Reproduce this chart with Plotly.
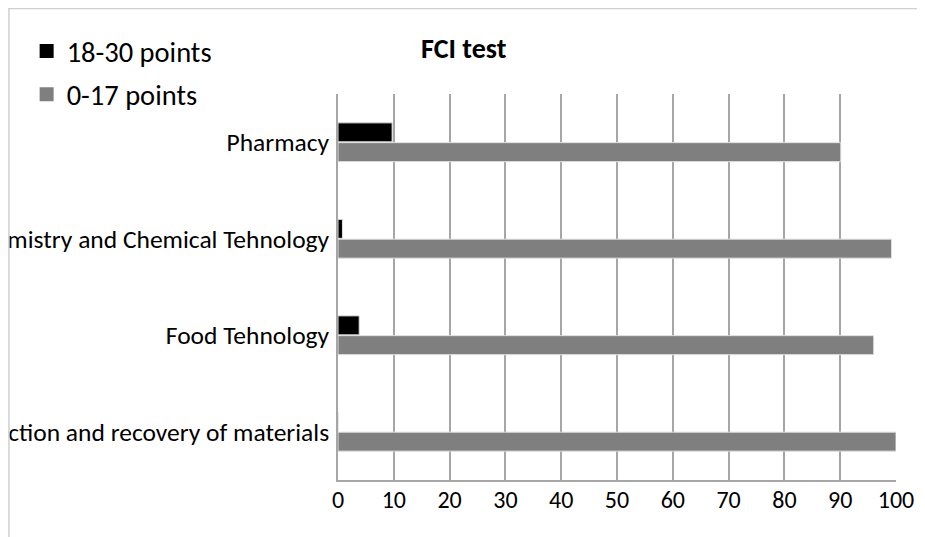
import plotly.graph_objects as go

categories = ["Pharmacy", "Chemistry and Chemical Tehnology", "Food Tehnology",
              "Protection and recovery of materials"]
high_scores = [9.7, 0.8, 3.8, 0.0]      # 18-30 points
low_scores = [90.1, 99.2, 96.0, 100.0]  # 0-17 points
series_names = ["18-30 points", "0-17 points"]
series_colors = ["#000000", "#7f7f7f"]
x_ticks = [0, 10, 20, 30, 40, 50, 60, 70, 80, 90, 100]

FONT = "Carlito, Calibri, 'Liberation Sans Narrow', 'Open Sans', sans-serif"

fig = go.Figure()
for vals, name, color, grp in [(high_scores, series_names[0], series_colors[0], "a"),
                               (low_scores, series_names[1], series_colors[1], "b")]:
    fig.add_trace(go.Bar(
        y=categories, x=vals, name=name, orientation="h",
        marker=dict(color=color, line=dict(color="#e0e0e0", width=1)),
        legendgroup=grp, showlegend=False,
    ))
# legend entries with larger square swatches
for name, color, grp in [(series_names[0], series_colors[0], "a"),
                         (series_names[1], series_colors[1], "b")]:
    fig.add_trace(go.Scatter(
        x=[None], y=[None], mode="markers", name=name, legendgroup=grp,
        marker=dict(symbol="square", size=14, color=color),
    ))

fig.update_layout(
    width=917, height=529,
    margin=dict(l=330, r=29, t=86, b=57, autoexpand=False),
    paper_bgcolor="white", plot_bgcolor="white",
    barmode="group", bargap=0.59, bargroupgap=0.04,
    font=dict(family=FONT, size=25.5, color="#000000"),
    title=dict(text="<b>FCI test</b>", x=0.497, xanchor="center",
               y=0.924, yanchor="middle", font=dict(size=28, family=FONT)),
    legend=dict(x=-0.558, y=1.176, xanchor="left", yanchor="top",
                traceorder="grouped", tracegroupgap=3,
                font=dict(size=28.5, family=FONT), itemwidth=30,
                bgcolor="rgba(0,0,0,0)"),
    xaxis=dict(range=[0, 100], tickvals=x_ticks, showgrid=True,
               gridcolor="#a6a6a6", gridwidth=1.5, zeroline=False,
               showline=True, linecolor="#a6a6a6", linewidth=1.5,
               ticks="", tickfont=dict(size=24), automargin=False,
               ticklabelstandoff=-3),
    yaxis=dict(categoryorder="array", categoryarray=categories,
               autorange="reversed", showgrid=False, zeroline=False,
               showline=True, linecolor="#a6a6a6", linewidth=1.5,
               ticks="outside", ticklen=2, tickcolor="rgba(0,0,0,0)",
               tickfont=dict(size=25.5), automargin=False),
    shapes=[
        dict(type="line", xref="paper", yref="paper", x0=-0.591, x1=1.1,
             y0=1.2216, y1=1.2216, line=dict(color="#d0d0d0", width=1.5)),
        dict(type="line", xref="paper", yref="paper", x0=-0.5897, x1=-0.5897,
             y0=1.2228, y1=-0.2, line=dict(color="#d0d0d0", width=1.5)),
    ],
)

fig.write_html("out.html")
